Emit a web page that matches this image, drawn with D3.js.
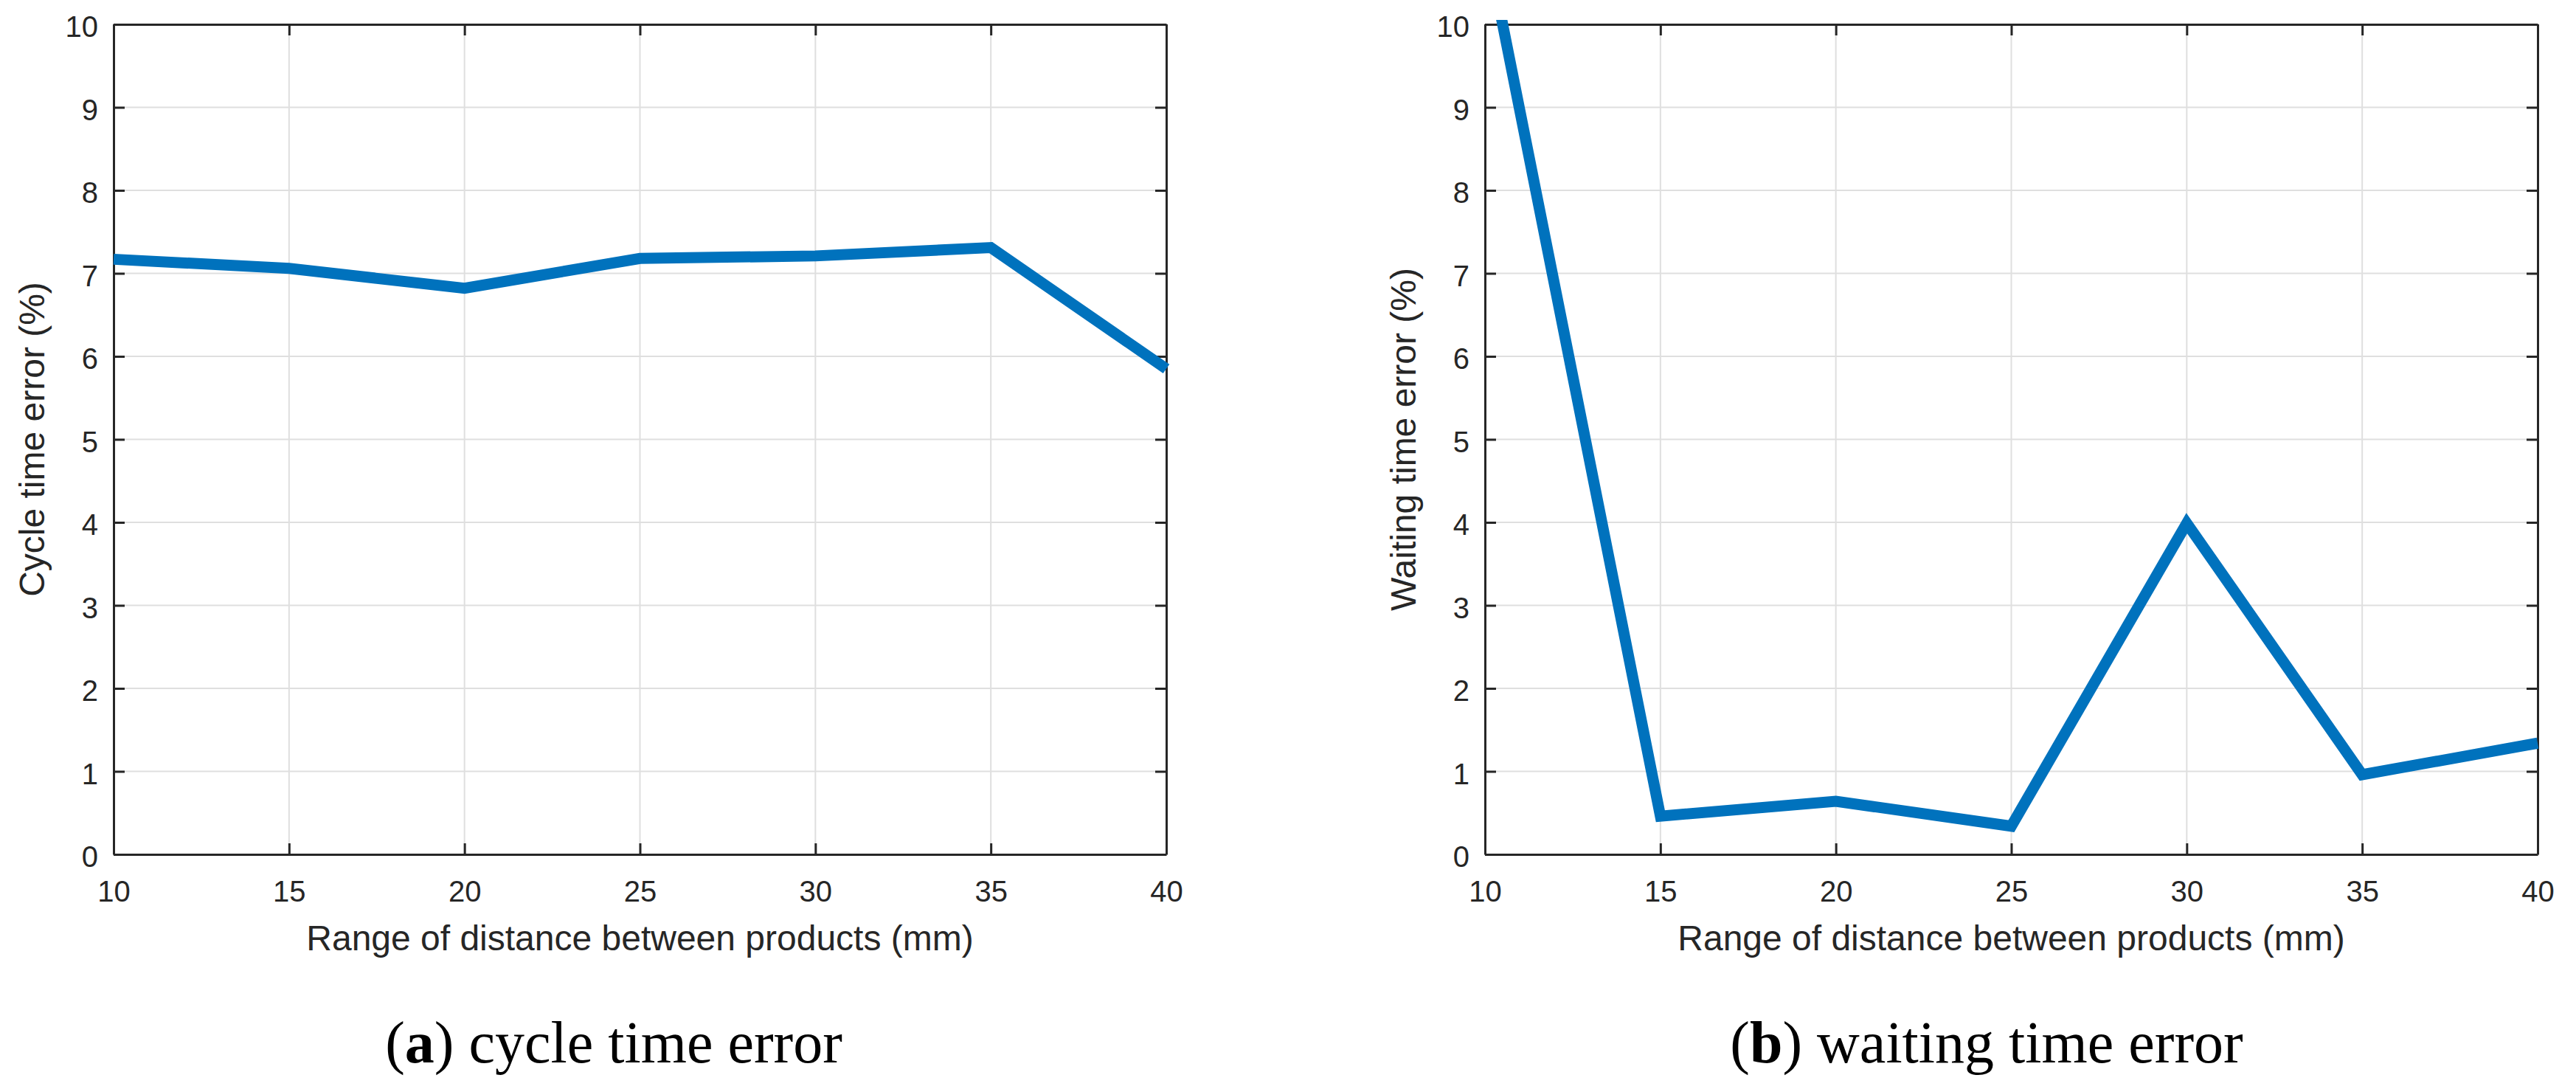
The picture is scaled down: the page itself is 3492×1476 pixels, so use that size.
<!DOCTYPE html>
<html>
<head>
<meta charset="utf-8">
<script src="https://cdn.jsdelivr.net/npm/d3@7"></script>
<style>
  body { margin: 0; background: #fff; }
  svg { display: block; }
</style>
</head>
<body>
<script>
// chart data
var distance = [10, 15, 20, 25, 30, 35, 40];
var cycleError = [7.17, 7.06, 6.82, 7.18, 7.21, 7.31, 5.85];
var waitingError = [11.07, 0.46, 0.64, 0.34, 3.99, 0.96, 1.34];
var xTicks = [10, 15, 20, 25, 30, 35, 40];
var yTicks = [0, 1, 2, 3, 4, 5, 6, 7, 8, 9, 10];

var xLabel = "Range of distance between products (mm)";
var panels = [
  { left: 154, values: cycleError, yLabel: "Cycle time error (%)", tag: "a", caption: " cycle time error", capX: 832 },
  { left: 2013, values: waitingError, yLabel: "Waiting time error (%)", tag: "b", caption: " waiting time error", capX: 2693 }
];

var w = 3492, h = 1476;
var plotTop = 33, pw = 1427, ph = 1125;
var axisColor = "#262626";

var svg = d3.select("body").append("svg")
    .attr("width", w)
    .attr("height", h);

panels.forEach(function(p, i) {

  var x = d3.scaleLinear().domain([10, 40]).range([0, pw]);
  var y = d3.scaleLinear().domain([0, 10]).range([ph, 0]);

  var g = svg.append("g").attr("transform", "translate(" + p.left + "," + plotTop + ")");

  //grid lines
  g.append("g").selectAll("line")
    .data(xTicks.slice(1, -1))
    .enter().append("line")
    .attr("x1", function(d) { return x(d); })
    .attr("x2", function(d) { return x(d); })
    .attr("y1", 0).attr("y2", ph)
    .style("stroke", "#dfdfdf").style("stroke-width", 2);
  g.append("g").selectAll("line")
    .data(yTicks.slice(1, -1))
    .enter().append("line")
    .attr("x1", 0).attr("x2", pw)
    .attr("y1", function(d) { return y(d); })
    .attr("y2", function(d) { return y(d); })
    .style("stroke", "#dfdfdf").style("stroke-width", 2);

  //axes, ticks pointing inward on all four sides
  var bottom = g.append("g").attr("transform", "translate(0," + ph + ")")
    .call(d3.axisBottom(x).tickValues(xTicks).tickSizeInner(-15).tickSizeOuter(0).tickPadding(35.6));
  var leftAx = g.append("g")
    .call(d3.axisLeft(y).tickValues(yTicks).tickSizeInner(-15).tickSizeOuter(0).tickPadding(21));
  var topAx = g.append("g")
    .call(d3.axisTop(x).tickValues(xTicks).tickSizeInner(-15).tickSizeOuter(0).tickFormat(""));
  var rightAx = g.append("g").attr("transform", "translate(" + pw + ",0)")
    .call(d3.axisRight(y).tickValues(yTicks).tickSizeInner(-15).tickSizeOuter(0).tickFormat(""));

  [bottom, leftAx, topAx, rightAx].forEach(function(a) {
    a.select(".domain").style("stroke", axisColor).style("stroke-width", 3);
    a.selectAll(".tick line").style("stroke", axisColor).style("stroke-width", 3);
    a.selectAll(".tick text")
      .style("font-family", "'Liberation Sans', Arial, sans-serif")
      .style("font-size", "40px")
      .style("fill", axisColor);
  });
  leftAx.selectAll(".tick text").attr("dy", "0.42em");

  //axis titles
  g.append("text")
    .attr("x", pw / 2)
    .attr("y", 1288 - plotTop)
    .attr("text-anchor", "middle")
    .style("font-family", "'Liberation Sans', Arial, sans-serif")
    .style("font-size", "48px")
    .style("fill", axisColor)
    .text(xLabel);

  g.append("text")
    .attr("transform", "translate(-94," + (ph / 2) + ") rotate(-90)")
    .attr("text-anchor", "middle")
    .style("font-family", "'Liberation Sans', Arial, sans-serif")
    .style("font-size", "48px")
    .style("fill", axisColor)
    .text(p.yLabel);

  //data line, clipped to the plot box
  g.append("clipPath").attr("id", "clip" + i)
    .append("rect")
    .attr("x", -10).attr("y", -6)
    .attr("width", pw + 20).attr("height", ph + 16);

  var line = d3.line()
    .x(function(d, j) { return x(distance[j]); })
    .y(function(d) { return y(d); });

  g.append("path")
    .datum(p.values)
    .attr("clip-path", "url(#clip" + i + ")")
    .attr("d", line)
    .style("fill", "none")
    .style("stroke", "#0072BD")
    .style("stroke-width", 15)
    .style("stroke-linejoin", "miter");

  //caption
  var cap = svg.append("text")
    .attr("x", p.capX)
    .attr("y", 1440)
    .attr("text-anchor", "middle")
    .style("font-family", "'Liberation Serif', 'Times New Roman', serif")
    .style("font-size", "80px")
    .style("fill", "#000");
  cap.append("tspan").text("(");
  cap.append("tspan").style("font-weight", "bold").text(p.tag);
  cap.append("tspan").text(")" + p.caption);
});
</script>
</body>
</html>
